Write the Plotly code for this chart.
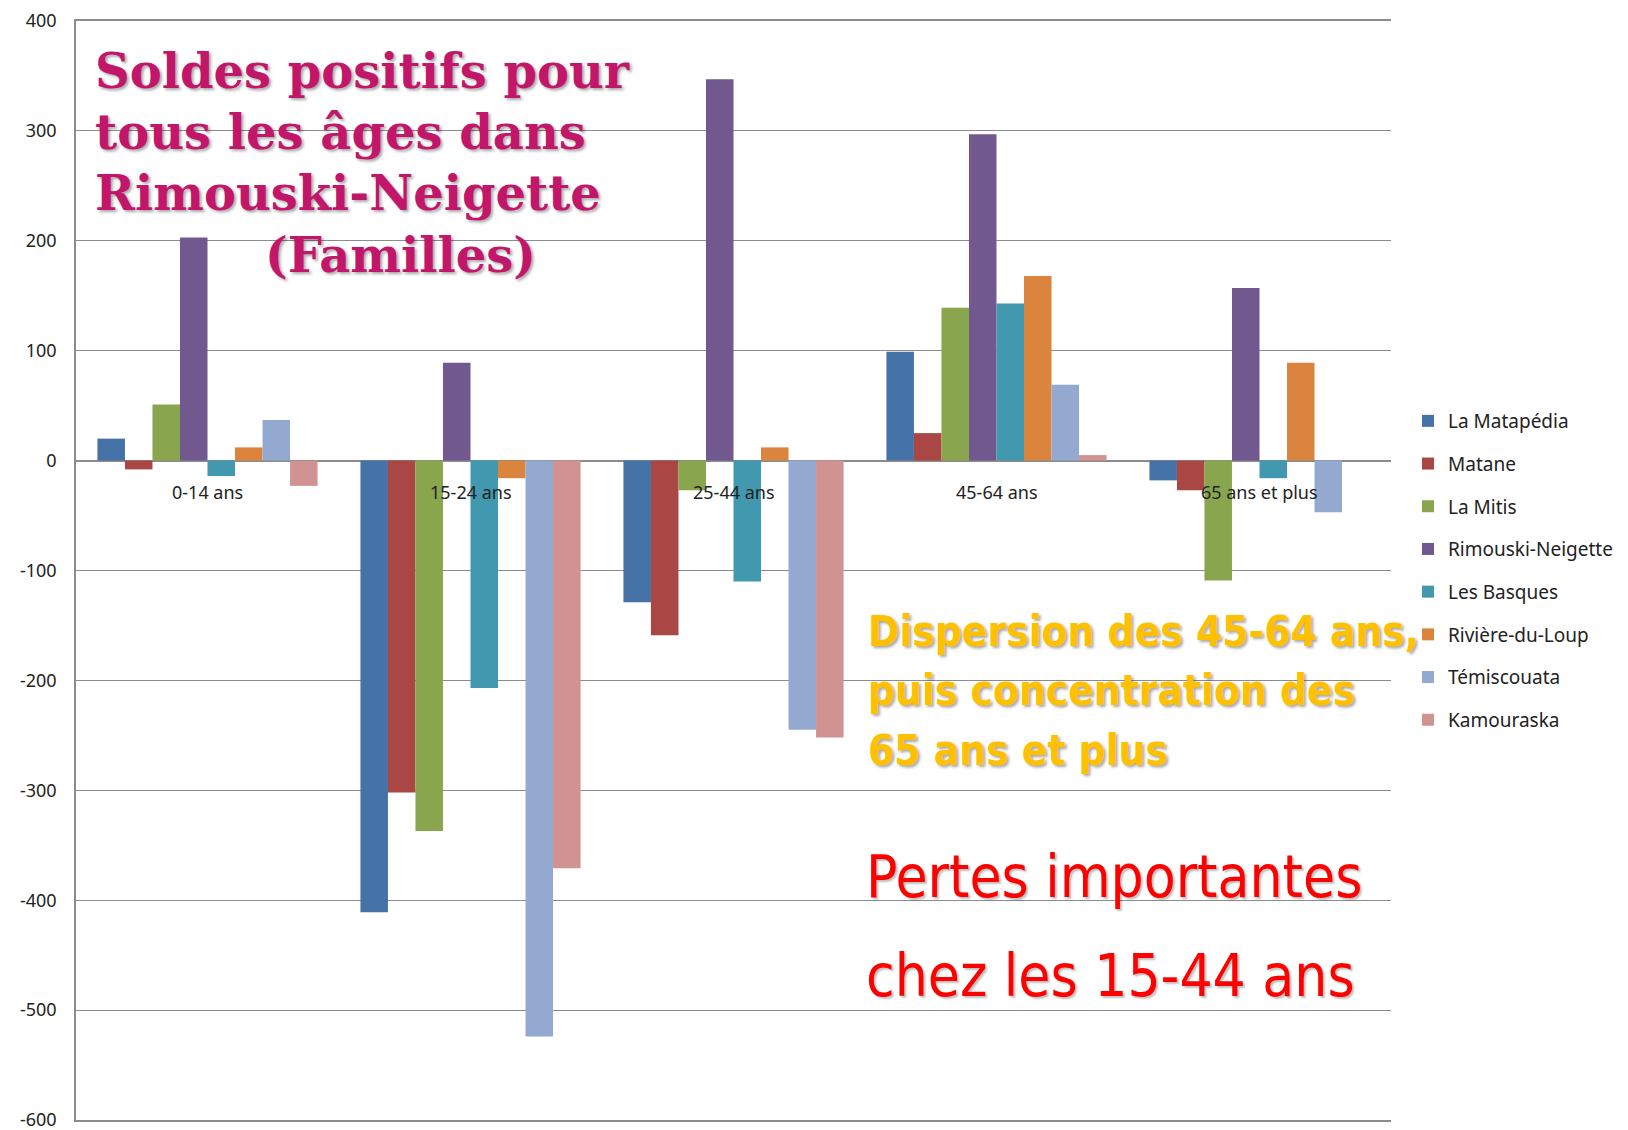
import plotly.graph_objects as go

categories = ["0-14 ans", "15-24 ans", "25-44 ans", "45-64 ans", "65 ans et plus"]

la_matapedia = [20, -411, -129, 99, -18]
matane = [-8, -302, -159, 25, -27]
la_mitis = [51, -337, -27, 139, -109]
rimouski_neigette = [203, 89, 347, 297, 157]
les_basques = [-14, -207, -110, 143, -16]
riviere_du_loup = [12, -16, 12, 168, 89]
temiscouata = [37, -524, -245, 69, -47]
kamouraska = [-23, -371, -252, 5, 0]

series_names = ["La Matapédia", "Matane", "La Mitis", "Rimouski-Neigette",
                "Les Basques", "Rivière-du-Loup", "Témiscouata", "Kamouraska"]
series_values = [la_matapedia, matane, la_mitis, rimouski_neigette,
                 les_basques, riviere_du_loup, temiscouata, kamouraska]
colors = ["#4572A7", "#AA4643", "#89A54E", "#71588F",
          "#4198AF", "#DB843D", "#93A9CF", "#D09392"]

y_ticks = [400, 300, 200, 100, 0, -100, -200, -300, -400, -500, -600]
y_tick_text = [str(v) for v in y_ticks]

W, H = 1628, 1130
L, R, T, B = 76, 237, 21, 10
PW, PH = W - L - R, H - T - B

def px_x(x):
    return (x - L) / PW

def px_y(y):
    return 1 - (y - T) / PH

fig = go.Figure()
for i, (name, vals, col) in enumerate(zip(series_names, series_values, colors)):
    fig.add_trace(go.Bar(
        x=categories, y=vals, name=name,
        marker=dict(color=col, line=dict(width=0)),
        legendgroup=f"g{i}",
    ))

base_font = "'Noto Sans', 'Open Sans', sans-serif"

fig.update_layout(
    width=W, height=H,
    margin=dict(l=L, r=R, t=T, b=B, autoexpand=False),
    paper_bgcolor="white", plot_bgcolor="white",
    barmode="group", bargap=0.163, bargroupgap=0,
    font=dict(family=base_font, size=18, color="#222222"),
    showlegend=True,
    legend=dict(
        x=px_x(1408), xanchor="left",
        y=px_y(402), yanchor="top",
        font=dict(size=19, color="#222222", family=base_font),
        tracegroupgap=15,
        itemwidth=30,
        bgcolor="rgba(0,0,0,0)",
    ),
    xaxis=dict(
        showticklabels=False, showgrid=False,
        showline=True, linecolor="#8c8c8c", linewidth=1.5, mirror=True,
        ticks="",
    ),
    yaxis=dict(
        range=[-600, 400], tickvals=y_ticks, ticktext=y_tick_text,
        showgrid=True, gridcolor="#8c8c8c", gridwidth=1,
        zeroline=True, zerolinecolor="#8c8c8c", zerolinewidth=1.5,
        showline=True, linecolor="#8c8c8c", linewidth=1.5,
        ticks="", ticklabelstandoff=14, automargin=False,
        ticklabeloverflow="allow",
        tickfont=dict(size=18, color="#222222", family=base_font),
    ),
)

# category labels next to the zero line
for c in categories:
    fig.add_annotation(x=c, y=0, xref="x", yref="y", text=c, showarrow=False,
                       yanchor="top", yshift=-17,
                       font=dict(size=18, color="#222222", family=base_font))

shadow = "2px 2px 3px rgba(0,0,0,0.35)"

title_font = dict(family="'DejaVu Serif', serif", size=48, color="#C2166B",
                  weight=700, shadow=shadow)
title_lines = [("Soldes positifs pour", 93, 70.6),
               ("tous les âges dans", 93, 131.9),
               ("Rimouski-Neigette", 93, 193.1),
               ("(Familles)", 263, 255.4)]
for txt, xx, yy in title_lines:
    fig.add_annotation(xref="paper", yref="paper", x=px_x(xx), y=px_y(yy),
                       xanchor="left", yanchor="middle", align="left",
                       showarrow=False, text=txt, font=title_font)

gold_font = dict(family="'DejaVu Sans Condensed', 'Liberation Sans Narrow', 'DejaVu Sans', sans-serif",
                 size=42, color="#FFC000", weight=700, shadow=shadow)
gold_lines = [("Dispersion des 45-64 ans,", 866, 631),
              ("puis concentration des", 866, 690),
              ("65 ans et plus", 866, 750)]
for txt, xx, yy in gold_lines:
    fig.add_annotation(xref="paper", yref="paper", x=px_x(xx), y=px_y(yy),
                       xanchor="left", yanchor="middle", align="left",
                       showarrow=False, text=txt, font=gold_font)

red_font = dict(family="'DejaVu Sans Condensed', 'Liberation Sans Narrow', sans-serif",
                size=58, color="#FF0000", shadow="2px 2px 2px rgba(0,0,0,0.25)")
red_lines = [("Pertes importantes", 864, 877),
             ("chez les 15-44 ans", 864, 976)]
for txt, xx, yy in red_lines:
    fig.add_annotation(xref="paper", yref="paper", x=px_x(xx), y=px_y(yy),
                       xanchor="left", yanchor="middle", align="left",
                       showarrow=False, text=txt, font=red_font)

fig.write_html("out.html",
               config={"displayModeBar": False},
               post_script="document.body.style.margin='0';document.body.style.overflow='hidden';")
